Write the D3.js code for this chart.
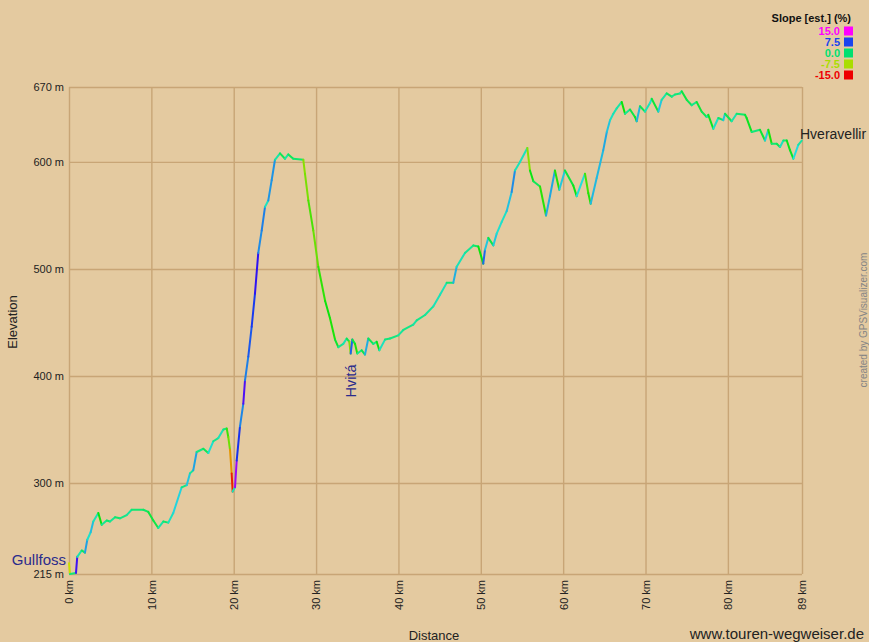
<!DOCTYPE html>
<html><head><meta charset="utf-8">
<script src="https://cdn.jsdelivr.net/npm/d3@7"></script>
<style>
html,body{margin:0;padding:0;background:#e4caa0;}
svg{display:block;font-family:"Liberation Sans",Arial,sans-serif;}
</style></head>
<body>
<svg id="c" width="869" height="642"></svg>
<script>
const distKm = [0,0.12,0.85,1.0,1.54,1.94,2.22,2.63,2.95,3.56,3.97,4.58,4.98,5.59,6.19,7.0,7.61,9.02,9.63,10.24,10.84,11.45,12.06,12.66,13.68,14.29,14.69,15.09,15.5,16.31,16.91,17.52,18.13,18.74,19.15,19.34,19.55,19.75,19.87,20.16,20.36,20.76,21.16,21.37,21.77,22.18,22.58,22.98,23.4,23.8,24.2,24.61,25.01,25.62,26.23,26.63,27.23,28.45,28.65,29.06,29.66,30.27,31.1,31.69,32.3,32.7,33.3,33.72,34.03,34.2,34.4,34.73,35.0,35.54,35.94,36.34,36.95,37.36,37.68,38.37,38.98,39.98,40.59,41.8,42.22,43.23,44.23,45.05,45.86,46.66,47.07,48.08,49.09,49.7,50.3,50.51,50.91,51.52,51.93,52.54,53.14,53.75,54.15,54.76,55.65,55.97,56.38,57.19,57.92,58.4,59.0,59.53,60.22,61.23,61.64,62.65,63.05,63.34,64.07,64.87,65.3,65.69,66.09,66.5,67.11,67.51,68.12,68.72,68.93,69.33,69.94,70.54,70.75,71.55,71.96,72.57,73.18,73.58,74.19,74.39,75.0,75.61,76.21,76.82,77.43,77.62,78.23,78.84,79.44,79.65,80.46,81.07,82.08,82.28,82.89,83.9,84.51,84.91,85.32,85.93,86.33,86.74,87.15,87.54,87.95,88.55,88.97];
const elevM = [225,215,216,231,237,235,247,254,264,272,261,265,264,268,267,270,275,275,273,265,258,264,263,272,296,298,309,312,329,332,328,339,342,350,351,343,331,309,292,296,321,353,374,396,418,446,477,515,536,558,564,583,602,608,603,607,603,602,589,564,536,502,470,454,434,427,430,435,432,421,434,430,421,424,420,435,430,432,424,434,435,438,443,448,452,457,465,476,487,487,502,515,522,521,505,518,529,522,533,544,554,572,592,600,613,592,582,577,550,568,592,574,592,578,568,589,571,561,585,611,628,639,645,650,656,645,649,642,638,652,647,655,659,647,658,664,661,663,664,666,658,653,656,647,642,644,631,641,639,645,638,645,644,641,628,630,620,630,617,617,614,620,620,611,603,616,620];

const yTicks = [215,300,400,500,600,670];
const xTicks = [0,10,20,30,40,50,60,70,80,89];
const slopeLegend = [15.0,7.5,0.0,-7.5,-15.0];
const slopeColors = ["#ff00ff","#1a44ee","#00e070","#aadd00","#ee0000"];
const rampStops = [-15,-7.5,0,2.5,7.5,15];
const rampColors = ["#ee0000","#aadd00","#10e870","#22ccdd","#1a44ee","#ff00ff"];
const labels = [
  {name:"Gullfoss", km:0, m:225},
  {name:"Hvitá", km:34.2, m:421},
  {name:"Hveravellir", km:89, m:620}
];

const svg = d3.select("#c");
const L=69,R=802,T=87,B=574;
const x = d3.scaleLinear().domain([0,89]).range([L,R]);
const y = d3.scaleLinear().domain([215,670]).range([B,T]);
const col = d3.scaleLinear().domain(rampStops).range(rampColors).interpolate(d3.interpolateHsl).clamp(true);

const gridCol="#c8a576";
const ya = svg.append("g").attr("transform",`translate(${L},0)`)
  .call(d3.axisLeft(y).tickValues(yTicks).tickSize(-(R-L)).tickPadding(5).tickFormat(d=>d+" m"));
ya.select(".domain").remove();
ya.selectAll("line").attr("stroke",gridCol).attr("stroke-width",1.4);
ya.selectAll("text").attr("fill","#222").style("font-size","11px").style("font-family","'Liberation Sans',Arial,sans-serif");

const xa = svg.append("g").attr("transform",`translate(0,${B})`)
  .call(d3.axisBottom(x).tickValues(xTicks).tickSize(-(B-T)).tickFormat(d=>d+" km"));
xa.select(".domain").remove();
xa.selectAll("line").attr("stroke",gridCol).attr("stroke-width",1.4);
xa.selectAll("text").attr("fill","#222").style("font-size","11px").style("font-family","'Liberation Sans',Arial,sans-serif")
  .attr("transform","rotate(-90)").attr("text-anchor","end").attr("x",-6).attr("y",0).attr("dy","0.35em");

const segs = d3.range(distKm.length-1).map(i=>{
  const dk = distKm[i+1]-distKm[i];
  const s = (elevM[i+1]-elevM[i])/(dk*1000)*100;
  return {x1:distKm[i],y1:elevM[i],x2:distKm[i+1],y2:elevM[i+1],s};
});
svg.append("g").selectAll("line").data(segs).join("line")
  .attr("x1",d=>x(d.x1)).attr("y1",d=>y(d.y1)).attr("x2",d=>x(d.x2)).attr("y2",d=>y(d.y2))
  .attr("stroke",d=>col(d.s)).attr("stroke-width",2).attr("stroke-linecap","round");

const lab = svg.append("g").style("font-family","'Liberation Sans',Arial,sans-serif");
lab.append("text").attr("x",x(labels[0].km)-3).attr("y",y(labels[0].m)+1.5).attr("text-anchor","end")
  .attr("fill","#2b2b8c").style("font-size","15px").text(labels[0].name);
lab.append("text").attr("transform",`translate(${x(labels[1].km)+5},${y(labels[1].m)+11}) rotate(-90)`)
  .attr("text-anchor","end").attr("fill","#2b2b8c").style("font-size","14.5px").text(labels[1].name);
lab.append("text").attr("x",x(labels[2].km)-2).attr("y",y(labels[2].m)-2)
  .attr("fill","#222").style("font-size","14px").text(labels[2].name);

svg.append("text").attr("x",434).attr("y",640).attr("text-anchor","middle").attr("fill","#222")
  .style("font-size","13px").text("Distance");
svg.append("text").attr("transform","translate(17,322) rotate(-90)").attr("text-anchor","middle").attr("fill","#222")
  .style("font-size","13px").text("Elevation");
svg.append("text").attr("x",864).attr("y",639).attr("text-anchor","end").attr("fill","#222")
  .style("font-size","15px").text("www.touren-wegweiser.de");
svg.append("text").attr("transform","translate(867,320) rotate(-90)").attr("text-anchor","middle").attr("fill","#858585")
  .style("font-size","10px").text("created by GPSVisualizer.com");

const lg = svg.append("g");
lg.append("text").attr("x",851).attr("y",22).attr("text-anchor","end").attr("fill","#111")
  .style("font-size","11px").style("font-weight","bold").text("Slope [est.] (%)");
slopeLegend.forEach((v,i)=>{
  const yy = 31+i*11;
  lg.append("rect").attr("x",844).attr("y",yy-4.5).attr("width",9).attr("height",9).attr("fill",slopeColors[i]);
  lg.append("text").attr("x",840).attr("y",yy+4).attr("text-anchor","end").attr("fill",slopeColors[i])
    .style("font-size","11px").style("font-weight","bold").text(v.toFixed(1));
});
</script>
</body></html>
